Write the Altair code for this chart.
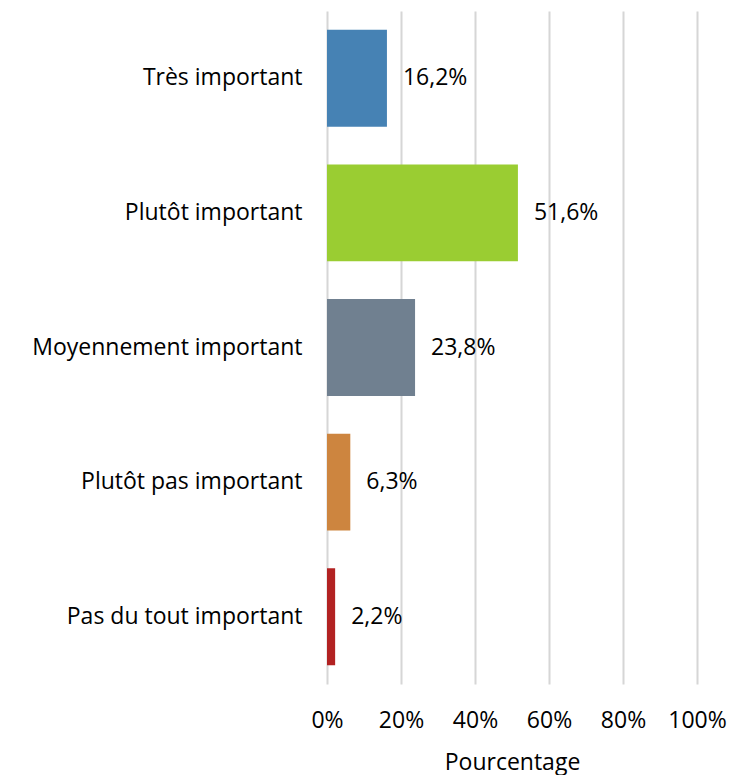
import altair as alt
import pandas as pd

categories = ["Très important", "Plutôt important", "Moyennement important",
              "Plutôt pas important", "Pas du tout important"]
values = [16.2, 51.6, 23.8, 6.3, 2.2]
colors = ["#4682B4", "#9ACD32", "#708090", "#CD853F", "#B22222"]
x_ticks = [0, 20, 40, 60, 80, 100]

df = pd.DataFrame({"cat": categories, "val": values})

FONT = "Open Sans"
FS = 23

y_enc = alt.Y("cat:N", sort=categories, title=None,
              scale=alt.Scale(paddingInner=0.28, paddingOuter=0.14),
              axis=alt.Axis(ticks=False, domain=False, labelPadding=25,
                            labelFontSize=FS, labelFont=FONT, labelColor="#000000",
                            labelLimit=400))
x_enc = alt.X("val:Q", title="Pourcentage",
              scale=alt.Scale(domain=[0, 100], nice=False),
              axis=alt.Axis(values=x_ticks, labelExpr="datum.value + '%'",
                            ticks=False, domain=False, grid=True,
                            gridColor="#D6D6D6", gridWidth=2,
                            labelOverlap=False, labelFlush=False,
                            labelPadding=25, labelFontSize=FS, labelFont=FONT,
                            labelColor="#000000", titleFontSize=FS, titleFont=FONT,
                            titleFontWeight="normal", titleColor="#000000",
                            titlePadding=19))

bars = alt.Chart(df).mark_bar().encode(
    y=y_enc, x=x_enc,
    color=alt.Color("cat:N", scale=alt.Scale(domain=categories, range=colors), legend=None),
)

text = alt.Chart(df).transform_calculate(
    lab="replace(format(datum.val, '.1f'), '.', ',') + '%'"
).mark_text(align="left", baseline="middle", dx=16, fontSize=FS, font=FONT, color="#000000").encode(
    y=alt.Y("cat:N", sort=categories), x=alt.X("val:Q"), text="lab:N"
)

chart = (bars + text).properties(
    width=370, height=673,
    padding={"left": 23, "top": 3, "right": 5, "bottom": 5},
).configure_view(stroke=None)

chart.save("out.html", embed_options={"renderer": "svg", "actions": False})
